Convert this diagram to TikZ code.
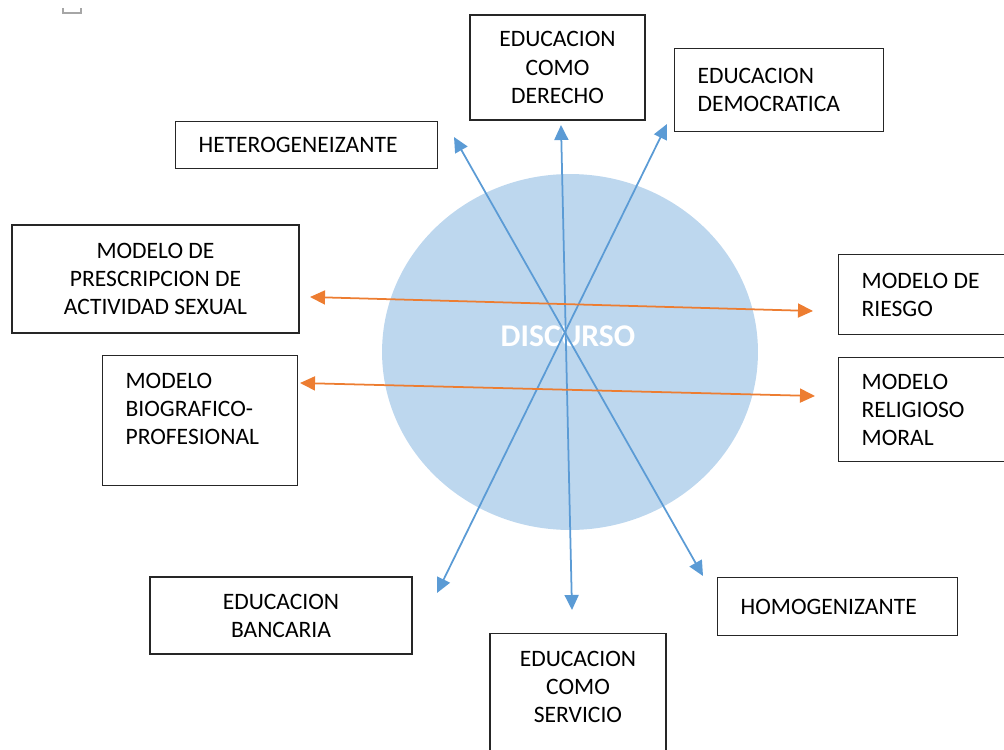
\documentclass[tikz,border=0pt]{standalone}
\usepackage{fontspec}
\setmainfont{Carlito}
\usepackage{tikz}
\usetikzlibrary{arrows.meta,shapes.geometric}

\definecolor{azul}{HTML}{5B9BD5}
\definecolor{naranja}{HTML}{ED7D31}
\definecolor{celeste}{HTML}{BDD7EE}

\begin{document}
\begin{tikzpicture}[x=0.02cm, y=-0.02cm,
  main/.style = {draw=black!85, line width=0.7pt, font=\fontsize{13.4}{16}\selectfont, inner sep=0pt, inner xsep=0.46cm},
  izq/.style = {main, anchor=north west, align=flush left},
  cen/.style = {main, align=center},
  punta/.tip = {Triangle[length=0.3cm, width=0.28cm]},
  flecha/.style = {line width=1pt, punta-punta}]
\clip (0,0) rectangle (1004,750);
\draw[gray!70, line width=0.6pt] (63,8) -- (63,13) -- (81,13) -- (81,8);
\node[ellipse, fill=celeste, minimum width=7.52cm, minimum height=7.12cm, inner sep=0pt] (0) at (570,352) {};
\node[text=white, font=\bfseries\fontsize{18}{20}\selectfont] (11) at (568,336) {DISCURSO};
\node[cen, minimum width=3.5cm, minimum height=2.1cm] (1) at (557.5,67.5) {EDUCACION\\COMO\\DERECHO};
\node[izq, text width=3.26cm, minimum height=1.66cm] (2) at (674,48) {EDUCACION\\DEMOCRATICA};
\node[izq, text width=4.32cm, minimum height=0.94cm] (3) at (175,121) {HETEROGENEIZANTE};
\node[cen, minimum width=5.74cm, minimum height=2.16cm] (4) at (155.5,279) {MODELO DE\\PRESCRIPCION DE\\ACTIVIDAD SEXUAL};
\node[izq, text width=2.98cm, minimum height=2.6cm] (5) at (102,355) {MODELO\\BIOGRAFICO-\\PROFESIONAL\rule[-0.46cm]{0pt}{0pt}};
\node[izq, text width=3.2cm, minimum height=1.6cm] (6) at (838,254) {MODELO DE\\RIESGO};
\node[izq, text width=3.2cm, minimum height=2.08cm] (7) at (838,357) {MODELO\\RELIGIOSO\\MORAL};
\node[cen, minimum width=5.24cm, minimum height=1.54cm] (8) at (281,615.5) {EDUCACION\\BANCARIA};
\node[izq, text width=3.88cm, minimum height=1.16cm] (9) at (717,577) {HOMOGENIZANTE};
\node[cen, anchor=north, minimum width=3.52cm, minimum height=2.54cm] (10) at (578,633) {EDUCACION\\COMO\\SERVICIO\rule[-0.4cm]{0pt}{0pt}};
% arrow ends
\coordinate (a1) at (561,125);
\coordinate (a2) at (572,610);
\coordinate (b1) at (454,137);
\coordinate (b2) at (703,576);
\coordinate (c1) at (667,124);
\coordinate (c2) at (437,593);
\coordinate (d1) at (310,297);
\coordinate (d2) at (813,311);
\coordinate (e1) at (300,383);
\coordinate (e2) at (815,396);
\draw[flecha, azul] (a1) -- (a2);
\draw[flecha, azul] (b1) -- (b2);
\draw[flecha, azul] (c1) -- (c2);
\draw[flecha, naranja] (d1) -- (d2);
\draw[flecha, naranja] (e1) -- (e2);
\end{tikzpicture}
\end{document}
